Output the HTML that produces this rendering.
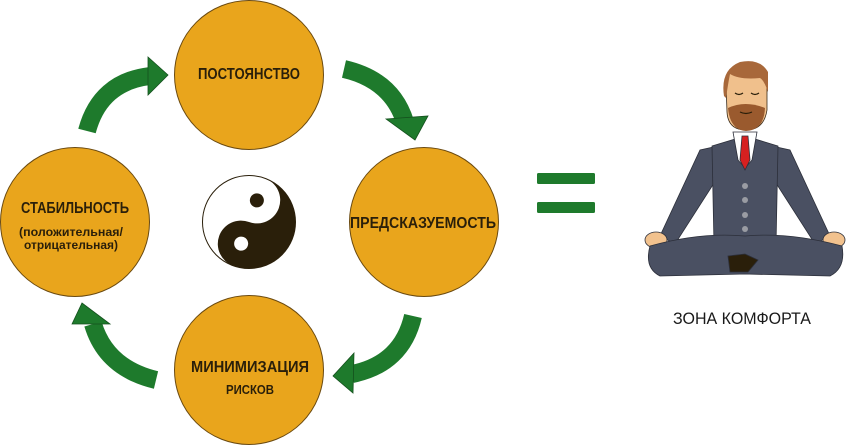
<!DOCTYPE html>
<html><head><meta charset="utf-8"><style>
html,body{margin:0;padding:0;background:#fff;}
svg{display:block}
text{font-family:"Liberation Sans Narrow","Liberation Sans",sans-serif;fill:#2a1f0a;font-weight:bold}
</style></head><body>
<svg width="852" height="446" viewBox="0 0 852 446" xmlns="http://www.w3.org/2000/svg">
<g fill="#E9A51C" stroke="#6b4a10" stroke-width="1">
<circle cx="249" cy="75" r="74.5"/>
<circle cx="75" cy="222" r="74.5"/>
<circle cx="424" cy="222" r="74.5"/>
<circle cx="249" cy="370" r="74.5"/>
</g>
<g text-anchor="middle" font-size="15.5">
<text x="249" y="79" textLength="102" lengthAdjust="spacingAndGlyphs">ПОСТОЯНСТВО</text>
<text x="75" y="213" textLength="108" lengthAdjust="spacingAndGlyphs">СТАБИЛЬНОСТЬ</text>
<text x="71" y="236" font-size="12" textLength="104" lengthAdjust="spacingAndGlyphs">(положительная/</text>
<text x="71" y="249" font-size="12" textLength="94" lengthAdjust="spacingAndGlyphs">отрицательная)</text>
<text x="423" y="228" textLength="146" lengthAdjust="spacingAndGlyphs">ПРЕДСКАЗУЕМОСТЬ</text>
<text x="250" y="372" textLength="118" lengthAdjust="spacingAndGlyphs">МИНИМИЗАЦИЯ</text>
<text x="250" y="394" font-size="13" textLength="48" lengthAdjust="spacingAndGlyphs">РИСКОВ</text>
</g>
<!-- yin yang -->
<g transform="translate(249,222)">
<circle r="46.5" fill="#fff" stroke="#2a1f0a" stroke-width="1"/>
<path d="M0,-46.5 A46.5,46.5 0 0 1 0,46.5 A23.25,23.25 0 0 1 0,0 A23.25,23.25 0 0 0 0,-46.5Z" fill="#2a1f0a" transform="rotate(20)"/>
<circle cx="0" cy="-23" r="7" fill="#2a1f0a" transform="rotate(20)"/>
<circle cx="0" cy="23" r="7" fill="#fff" transform="rotate(20)"/>
</g>
<!-- arrows -->
<g fill="none" stroke="#1E7A2C" stroke-width="18">
<path d="M87,131 Q100,82 150,76"/>
<path d="M344,69 Q392,80 405,122"/>
<path d="M413,316 Q402,364 352,374"/>
<path d="M156,380 Q106,368 93,324"/>
</g>
<g fill="#1E7A2C" stroke="#14501d" stroke-width="0.8">
<polygon points="148,57 168,75 148,95"/>
<polygon points="386,119 428,116 415,140"/>
<polygon points="354,353 333,376 353,393"/>
<polygon points="72,324 82,303 110,324"/>
</g>
<!-- equals -->
<rect x="537" y="173" width="58" height="11" rx="1.5" fill="#1E7A2C"/>
<rect x="537" y="202" width="58" height="11" rx="1.5" fill="#1E7A2C"/>
<!-- man -->
<g stroke="#2c2f3a" stroke-width="0.8">
<!-- arms -->
<path d="M718,146 L700,150 L660,236 L675,244 L716,180Z" fill="#4a5062"/>
<path d="M772,146 L790,150 L830,236 L815,244 L774,180Z" fill="#4a5062"/>
<!-- hands -->
<ellipse cx="656" cy="240" rx="11" ry="8" fill="#F2C28E"/>
<ellipse cx="834" cy="240" rx="11" ry="8" fill="#F2C28E"/>
<!-- torso -->
<path d="M712,146 L745,136 L778,146 L776,245 L714,245Z" fill="#4a5062"/>
<!-- legs -->
<path d="M650,246 Q700,232 745,236 Q790,232 842,246 Q846,268 830,276 L745,274 L660,276 Q644,268 650,246Z" fill="#4a5062"/>
<path d="M728,256 L745,254 L758,260 L748,272 L730,272Z" fill="#2a1f0a"/>
<!-- shirt & tie -->
<path d="M733,132 L757,132 L752,160 L745,168 L738,160Z" fill="#fff"/>
<path d="M742,136 L748,136 L750,160 L745,170 L740,160Z" fill="#D62020"/>
</g>
<g fill="#9a9ca3"><circle cx="745" cy="186" r="3"/><circle cx="745" cy="200" r="3"/><circle cx="745" cy="215" r="3"/><circle cx="745" cy="229" r="3"/></g>
<!-- head -->
<path d="M726,84 Q726,66 748,63 Q768,66 767,84 L767,110 Q764,130 746,130 Q728,130 727,112Z" fill="#F0C08C" stroke="#3a2a18" stroke-width="0.8"/>
<path d="M728,108 Q745,100 765,108 Q764,130 746,131 Q730,130 728,108Z" fill="#9A5A2E"/>
<path d="M724,96 Q720,70 740,62 Q760,58 768,72 L768,92 Q764,80 760,78 Q740,80 730,74 Q728,84 726,98Z" fill="#A8683A"/>
<g stroke="#2a1f0a" stroke-width="1.2" fill="none"><path d="M735,93 Q739,96 743,93"/><path d="M751,93 Q755,96 759,93"/><path d="M740,112 Q746,115 752,112"/></g>
<text x="742" y="324" text-anchor="middle" font-size="17" textLength="138" lengthAdjust="spacingAndGlyphs" style="font-weight:normal;fill:#1a1a1a">ЗОНА КОМФОРТА</text>
</svg>
</body></html>
